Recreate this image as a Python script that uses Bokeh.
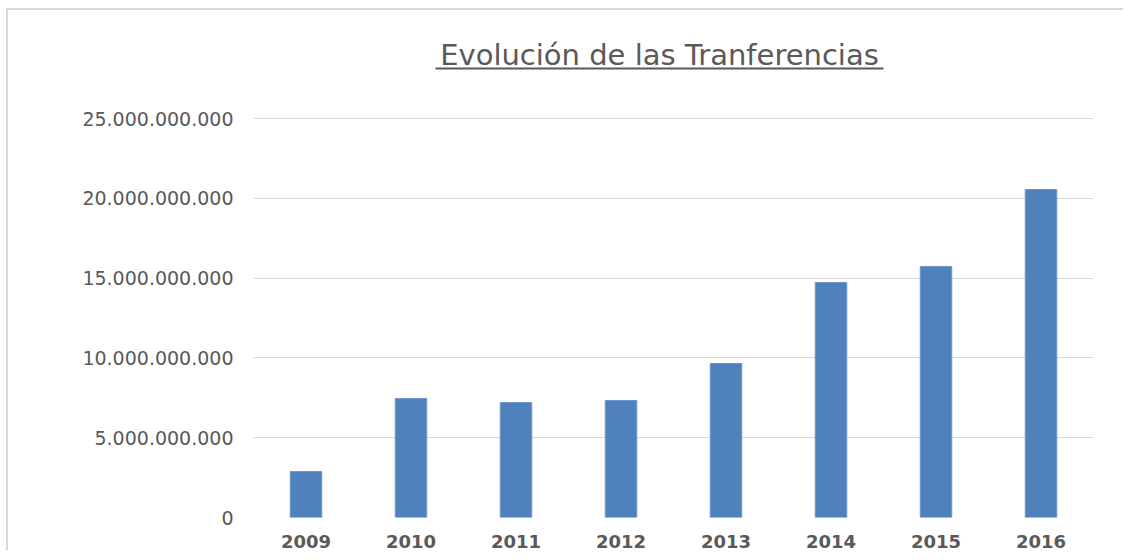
from bokeh.plotting import figure
from bokeh.models import FixedTicker, BoxAnnotation, Label
from bokeh.embed import file_html
from bokeh.resources import INLINE

years = ["2009", "2010", "2011", "2012", "2013", "2014", "2015", "2016"]
transfers = [2.88e9, 7.46e9, 7.20e9, 7.33e9, 9.65e9, 14.72e9, 15.73e9, 20.55e9]
yticks = [0, 5e9, 10e9, 15e9, 20e9, 25e9]
ytick_labels = ["0", "5.000.000.000", "10.000.000.000", "15.000.000.000",
                "20.000.000.000", "25.000.000.000"]
title_text = "Evolución de las Tranferencias"

FONT = "DejaVu Sans"
GRAY = "#595959"

# layout in page pixels; the canvas starts after a CSS margin + 2px border
MX, MY, BW = 6, 8, 2
BX, BY = MX + BW, MY + BW
F_LEFT, F_RIGHT, F_TOP, F_BOTTOM = 253, 1093, 38, 517
AX_TOP = 118  # pixel of the 25.000.000.000 gridline
PAGE_W, PAGE_H = 1125, 552
W, H = PAGE_W - BX, PAGE_H - BY
YMAX = yticks[-1]


def py(pix):
    return YMAX * (F_BOTTOM - pix) / (F_BOTTOM - AX_TOP)


def px(pix):
    return (pix - F_LEFT) / ((F_RIGHT - F_LEFT) / len(years))


p = figure(x_range=years, y_range=(0, py(F_TOP)), width=W, height=H,
           output_backend="svg", toolbar_location=None,
           min_border_left=F_LEFT - BX, min_border_right=PAGE_W - F_RIGHT,
           min_border_top=F_TOP - BY, min_border_bottom=PAGE_H - F_BOTTOM)
p.x_range.range_padding = 0
p.outline_line_color = None
p.background_fill_color = "white"
p.border_fill_color = "white"
p.styles = {"margin-left": f"{MX}px", "margin-top": f"{MY}px",
            "border-left": f"{BW}px solid #d9d9d9",
            "border-top": f"{BW}px solid #d9d9d9"}

p.vbar(x=years, top=transfers, width=0.3, fill_color="#4F81BD",
       line_color="#6B95C8", line_width=1)

p.xgrid.grid_line_color = None
p.ygrid.grid_line_color = "#d9d9d9"
p.ygrid.grid_line_width = 1

p.yaxis.ticker = FixedTicker(ticks=yticks)
p.yaxis.major_label_overrides = {t: l for t, l in zip(yticks, ytick_labels)}
p.yaxis.axis_line_color = None
p.yaxis.major_tick_line_color = None
p.yaxis.minor_tick_line_color = None
p.yaxis.major_tick_out = 0
p.yaxis.major_tick_in = 0
p.yaxis.major_label_standoff = 20
p.yaxis.major_label_text_font = FONT
p.yaxis.major_label_text_font_size = "19px"
p.yaxis.major_label_text_color = GRAY

p.xaxis.axis_line_color = None
p.xaxis.major_tick_line_color = None
p.xaxis.minor_tick_line_color = None
p.xaxis.major_tick_out = 0
p.xaxis.major_tick_in = 0
p.xaxis.major_label_standoff = 17
p.xaxis.major_label_text_font = FONT
p.xaxis.major_label_text_font_size = "18px"
p.xaxis.major_label_text_font_style = "bold"
p.xaxis.major_label_text_color = GRAY

# title and its underline
p.add_layout(Label(x=px(659), y=py(54), text=title_text, text_align="center",
                   text_baseline="alphabetic", text_font=FONT,
                   text_font_size="29px", text_color=GRAY))
p.add_layout(BoxAnnotation(left=px(435), right=px(883), top=py(67), bottom=py(69),
                           fill_color=GRAY, fill_alpha=1, line_color=None))

open("out.html", "w").write(file_html(p, INLINE))
